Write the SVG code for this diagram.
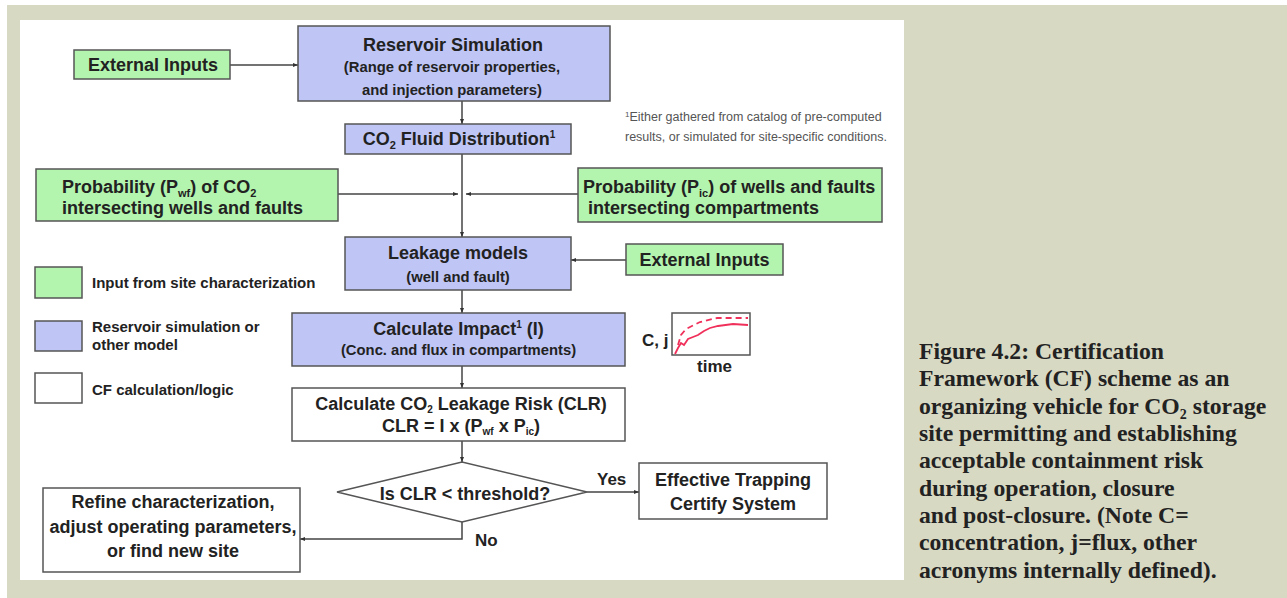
<svg xmlns="http://www.w3.org/2000/svg" width="1287" height="598" viewBox="0 0 1287 598">
<style>
.t{font-family:"Liberation Sans",Arial,sans-serif;font-weight:bold;fill:#222;}
.c{text-anchor:middle;}
.m{font-size:18px;}
.s{font-size:14.8px;}
.green{fill:#b3f5ae;stroke:#555;stroke-width:1.5;}
.blue{fill:#bfc6f6;stroke:#555;stroke-width:1.5;}
.white{fill:#fff;stroke:#555;stroke-width:1.5;}
.conn line,.conn polyline{stroke:#444;stroke-width:1.5;fill:none;}
.cap{font-family:"Liberation Serif","Times New Roman",serif;font-weight:bold;font-size:23.7px;fill:#222;}
.fn{font-family:"Liberation Sans",Arial,sans-serif;font-size:12.5px;fill:#555;}
</style>
<defs>
<marker id="ah" viewBox="0 0 10 10" refX="10" refY="5" markerWidth="5" markerHeight="5" orient="auto" markerUnits="userSpaceOnUse">
<path d="M0,1 L10,5 L0,9 Z" fill="#333"/>
</marker>
</defs>
<rect x="0" y="0" width="1287" height="598" fill="#fff"/>
<rect x="7" y="5" width="1280" height="593" fill="#d8d9c2"/>
<rect x="20" y="20" width="884" height="560" fill="#fff"/>

<g class="conn">
<line x1="230" y1="65" x2="298" y2="65" marker-end="url(#ah)"/>
<line x1="462" y1="101" x2="462" y2="124" marker-end="url(#ah)"/>
<line x1="462" y1="154" x2="462" y2="237" marker-end="url(#ah)"/>
<line x1="338" y1="194" x2="458" y2="194" marker-end="url(#ah)"/>
<line x1="578" y1="194" x2="466" y2="194" marker-end="url(#ah)"/>
<line x1="626" y1="260" x2="571" y2="260" marker-end="url(#ah)"/>
<line x1="462" y1="290" x2="462" y2="313" marker-end="url(#ah)"/>
<line x1="462" y1="366" x2="462" y2="388" marker-end="url(#ah)"/>
<line x1="462" y1="441" x2="462" y2="462" marker-end="url(#ah)"/>
<line x1="587" y1="492" x2="639" y2="492" marker-end="url(#ah)"/>
<polyline points="462,522 462,539 300,539" marker-end="url(#ah)"/>
<text class="t" x="597" y="485" font-size="17">Yes</text>
<text class="t" x="475" y="546" font-size="17">No</text>
</g>

<g id="ext-top">
<rect class="green" x="74" y="50" width="156" height="29"/>
<text class="t c m" x="153" y="71">External Inputs</text>
</g>

<g id="reservoir">
<rect class="blue" x="298" y="26" width="312" height="75"/>
<text class="t c m" x="453" y="51">Reservoir Simulation</text>
<text class="t c s" x="452" y="72">(Range of reservoir properties,</text>
<text class="t c s" x="452" y="95">and injection parameters)</text>
</g>

<g id="co2fluid">
<rect class="blue" x="345" y="124" width="226" height="30"/>
<text class="t c m" x="459" y="145">CO<tspan font-size="11" dy="4">2</tspan><tspan dy="-4"> Fluid Distribution</tspan><tspan font-size="10" dy="-7">1</tspan></text>
</g>

<text class="fn" x="625" y="121"><tspan font-size="8" dy="-4">1</tspan><tspan dy="4">Either gathered from catalog of pre-computed</tspan></text>
<text class="fn" x="625" y="141">results, or simulated for site-specific conditions.</text>

<g id="pwf">
<rect class="green" x="36" y="169" width="302" height="52"/>
<text class="t m" x="62" y="193">Probability (P<tspan font-size="11" dy="4">wf</tspan><tspan dy="-4">) of CO</tspan><tspan font-size="11" dy="4">2</tspan></text>
<text class="t m" x="62" y="214">intersecting wells and faults</text>
</g>

<g id="pic">
<rect class="green" x="578" y="168" width="304" height="54"/>
<text class="t m" x="583" y="193">Probability (P<tspan font-size="11" dy="4">ic</tspan><tspan dy="-4">) of wells and faults</tspan></text>
<text class="t m" x="588" y="214">intersecting compartments</text>
</g>

<g id="leakage">
<rect class="blue" x="345" y="237" width="226" height="53"/>
<text class="t c m" x="458" y="259">Leakage models</text>
<text class="t c s" x="458" y="282">(well  and fault)</text>
</g>

<g id="ext-right">
<rect class="green" x="626" y="244" width="157" height="31"/>
<text class="t c m" x="704.5" y="266">External Inputs</text>
</g>

<g id="impact">
<rect class="blue" x="292" y="313" width="333" height="53"/>
<text class="t c m" x="458.5" y="335">Calculate Impact<tspan font-size="10" dy="-7">1</tspan><tspan dy="7"> (I)</tspan></text>
<text class="t c s" x="458.5" y="355">(Conc. and flux in compartments)</text>
</g>

<g id="chart">
<text class="t" x="642" y="346" font-size="17">C, j</text>
<rect x="672" y="313" width="78" height="42" fill="#fff" stroke="#555" stroke-width="1.5"/>
<polyline points="675,354 678,348 681,343 684,345 688,339 693,337 698,335 704,331 710,328 718,326 733,324 748,325" fill="none" stroke="#f0305a" stroke-width="1.8"/>
<polyline points="678,345 681,335 686,329 700,322 717,318 748,318" fill="none" stroke="#f0305a" stroke-width="1.8" stroke-dasharray="6,4"/>
<text class="t" x="697" y="372" font-size="17">time</text>
</g>

<g id="clr">
<rect class="white" x="292" y="388" width="333" height="53"/>
<text class="t c m" x="461" y="410">Calculate CO<tspan font-size="10" dy="3">2</tspan><tspan dy="-3"> Leakage Risk (CLR)</tspan></text>
<text class="t c m" x="461" y="432">CLR = I x (P<tspan font-size="10" dy="3">wf</tspan><tspan dy="-3"> x P</tspan><tspan font-size="10" dy="3">ic</tspan><tspan dy="-3">)</tspan></text>
</g>

<g id="decision">
<polygon class="white" points="337,492 462,462 587,492 462,522"/>
<text class="t c m" x="465" y="500">Is CLR &lt; threshold?</text>
</g>

<g id="effective">
<rect class="white" x="639" y="463" width="188" height="56"/>
<text class="t c m" x="733" y="486">Effective Trapping</text>
<text class="t c m" x="733" y="510">Certify System</text>
</g>

<g id="refine">
<rect class="white" x="43" y="488" width="257" height="84"/>
<text class="t c m" x="173" y="508">Refine characterization,</text>
<text class="t c m" x="173" y="533">adjust operating parameters,</text>
<text class="t c m" x="173" y="557">or find new site</text>
</g>

<g id="legend">
<rect class="green" x="35" y="267" width="47" height="31"/>
<text class="t" x="92" y="288" font-size="15">Input from site characterization</text>
<rect class="blue" x="35" y="321" width="47" height="30"/>
<text class="t" x="92" y="332" font-size="15">Reservoir simulation or</text>
<text class="t" x="92" y="350" font-size="15">other model</text>
<rect class="white" x="35" y="373" width="47" height="30"/>
<text class="t" x="92" y="395" font-size="15">CF calculation/logic</text>
</g>

<g id="caption" class="cap">
<text x="919" y="359">Figure 4.2: Certification</text>
<text x="919" y="386">Framework (CF) scheme as an</text>
<text x="919" y="414">organizing vehicle for CO<tspan font-size="14" dy="5">2</tspan><tspan dy="-5"> storage</tspan></text>
<text x="919" y="441">site permitting and establishing</text>
<text x="919" y="468">acceptable containment risk</text>
<text x="919" y="496">during operation, closure</text>
<text x="919" y="523">and post-closure. (Note C=</text>
<text x="919" y="550">concentration, j=flux, other</text>
<text x="919" y="578">acronyms internally defined).</text>
</g>
</svg>
